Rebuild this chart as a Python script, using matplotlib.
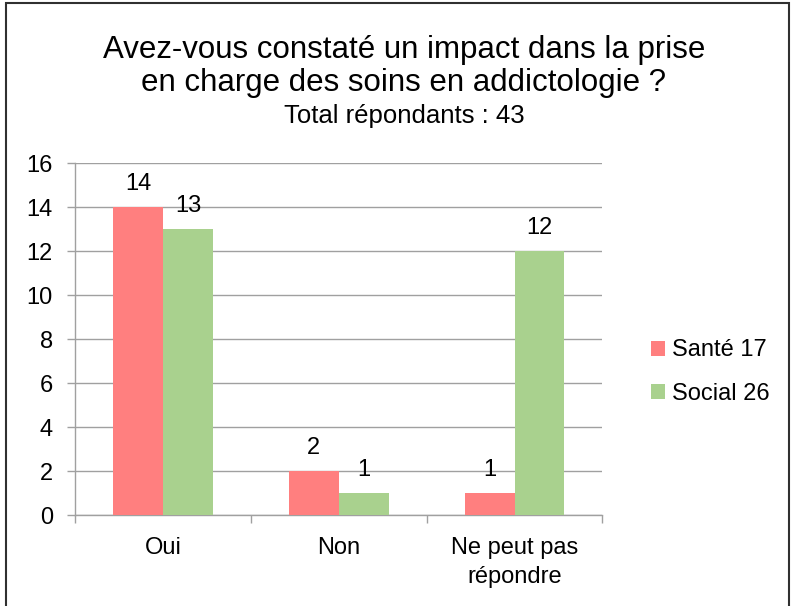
import matplotlib.pyplot as plt
import numpy as np
from matplotlib.patches import Rectangle

plt.rcParams['font.family'] = ['Liberation Sans', 'DejaVu Sans']

# données
categories = ['Oui', 'Non', 'Ne peut pas\nrépondre']
sante = [14, 2, 1]
social = [13, 1, 12]
series_names = ['Santé 17', 'Social 26']
colors = ['#FF7F7F', '#A9D18E']

fig = plt.figure(figsize=(7.92, 6.06), dpi=100)
ax = fig.add_axes([0.0947, 0.150, 0.666, 0.581])

x = np.arange(len(categories))
w = 0.284
b1 = ax.bar(x - w / 2, sante, w, color=colors[0], label=series_names[0], zorder=3)
b2 = ax.bar(x + w / 2, social, w, color=colors[1], label=series_names[1], zorder=3)

# valeurs au-dessus des barres
for bars in (b1, b2):
    for r in bars:
        ax.annotate('%d' % r.get_height(), (r.get_x() + r.get_width() / 2, r.get_height()),
                    xytext=(0, 9), textcoords='offset points', ha='center', va='bottom', fontsize=17)

ax.set_xlim(-0.5, len(categories) - 0.5)
ax.set_ylim(0, 16)
ax.set_yticks(range(0, 17, 2))
ax.tick_params(axis='y', labelsize=17, length=6, color='#A0A0A0', width=1, pad=10)
ax.set_xticks(x)
ax.set_xticklabels(categories, fontsize=17, linespacing=1.42)
ax.tick_params(axis='x', length=0, pad=16)
ax.set_xticks(np.arange(-0.5, len(categories)), minor=True)
ax.tick_params(axis='x', which='minor', length=6, color='#A0A0A0', width=1)

ax.grid(axis='y', color='#A0A0A0', linewidth=1, zorder=0)
for s in ['top', 'right']:
    ax.spines[s].set_visible(False)
for s in ['left', 'bottom']:
    ax.spines[s].set_color('#A0A0A0')
    ax.spines[s].set_linewidth(1)

fig.legend(loc='center left', bbox_to_anchor=(0.795, 0.386), frameon=False, fontsize=17,
           handlelength=0.6, handleheight=0.6, handletextpad=0.3, labelspacing=0.9)

fig.text(0.51, 0.890, 'Avez-vous constaté un impact dans la prise\nen charge des soins en addictologie ?',
         ha='center', va='center', fontsize=22.5, linespacing=1.12)
fig.text(0.51, 0.808, 'Total répondants : 43', ha='center', va='center', fontsize=18.5)

# cadre
fig.patches.append(Rectangle((6 / 792, -0.02), 783 / 792, 1 - 3 / 606 + 0.02, transform=fig.transFigure,
                             fill=False, edgecolor='#303030', linewidth=1.5))

fig.savefig('out.png', dpi=100)
